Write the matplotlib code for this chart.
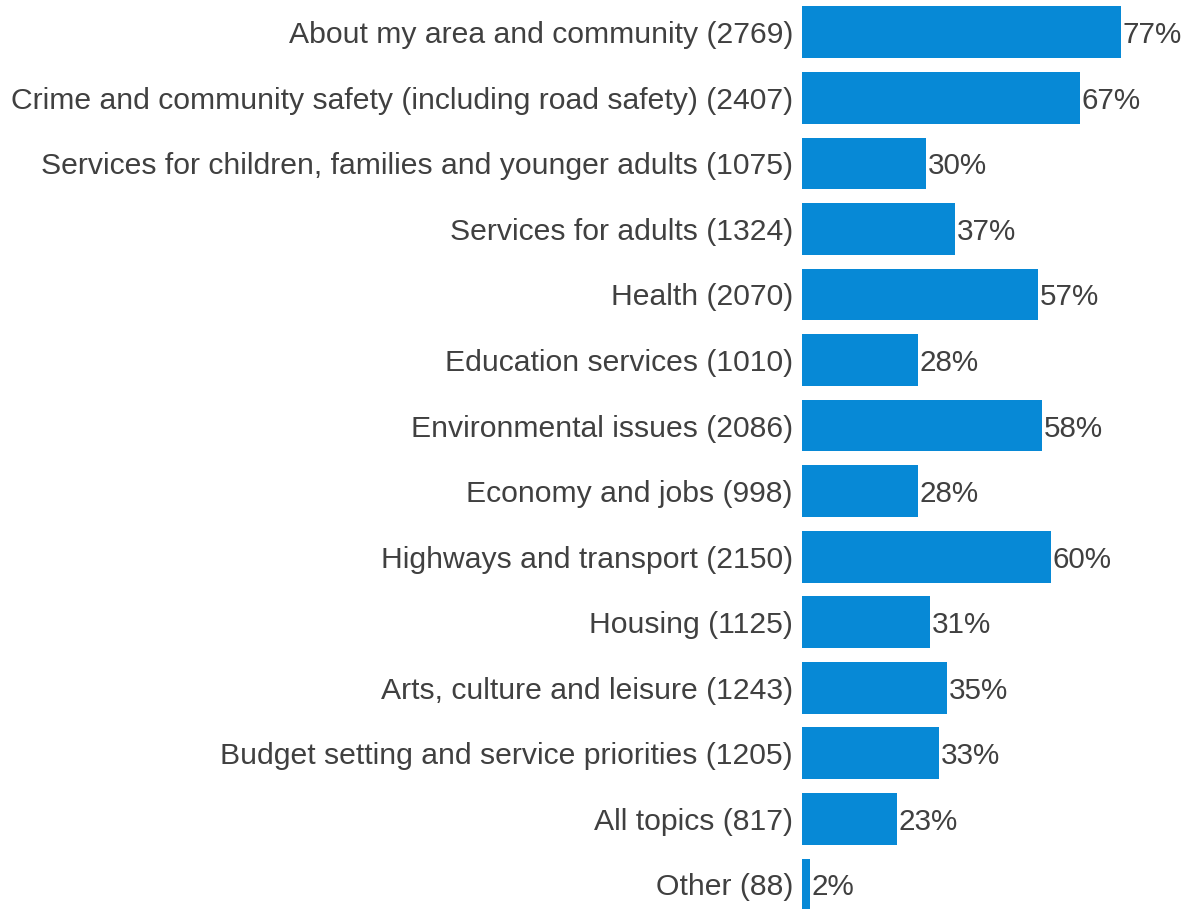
import matplotlib.pyplot as plt

categories = [
    "About my area and community (2769)",
    "Crime and community safety (including road safety) (2407)",
    "Services for children, families and younger adults (1075)",
    "Services for adults (1324)",
    "Health (2070)",
    "Education services (1010)",
    "Environmental issues (2086)",
    "Economy and jobs (998)",
    "Highways and transport (2150)",
    "Housing (1125)",
    "Arts, culture and leisure (1243)",
    "Budget setting and service priorities (1205)",
    "All topics (817)",
    "Other (88)",
]
percent = [77, 67, 30, 37, 57, 28, 58, 28, 60, 31, 35, 33, 23, 2]

bar_color = "#0789D6"
text_color = "#404040"

plt.rcParams['font.family'] = ['Liberation Sans', 'DejaVu Sans']

fig = plt.figure(figsize=(11.86, 9.09), dpi=100)
ax = fig.add_axes([802 / 1186, -0.009, 1 - 802 / 1186, 1.0095])

y = list(range(len(categories)))
bars = ax.barh(y, percent, height=0.79, color=bar_color)

for b, v in zip(bars, percent):
    ax.text(b.get_width() + 0.4, b.get_y() + b.get_height() / 2, f"{v}%",
            va="center_baseline", ha="left", fontsize=21.3, color=text_color)

ax.set_yticks(y)
ax.set_yticklabels(categories, fontsize=21.7, color=text_color, va="center_baseline")
ax.tick_params(axis="y", length=0, pad=6.5)
ax.set_ylim(len(categories) - 0.5, -0.5)
ax.set_xlim(0, 92.7)
ax.set_xticks([])
for s in ax.spines.values():
    s.set_visible(False)

fig.savefig("out.png", dpi=100)
